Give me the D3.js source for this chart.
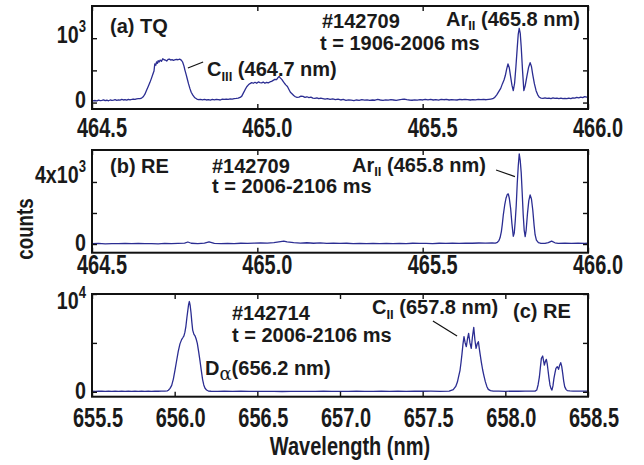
<!DOCTYPE html>
<html>
<head>
<meta charset="utf-8">
<script src="https://cdn.jsdelivr.net/npm/d3@7"></script>
<style>
  body { margin: 0; background: #fff; }
  text { font-family: 'Liberation Sans', Arial, sans-serif; font-weight: bold; fill: #1a1a1a; }
</style>
</head>
<body>
<div id="chart"></div>
<script>
// Spectra: [wavelength (nm), counts]
const tqData = [
  [464.500,35],[464.505,28],[464.510,32],[464.515,25],[464.520,38],[464.525,30],[464.530,35],[464.535,42],
  [464.540,30],[464.545,36],[464.550,28],[464.555,40],[464.560,33],[464.565,38],[464.570,45],[464.575,35],
  [464.580,42],[464.585,38],[464.590,48],[464.595,40],[464.600,45],[464.605,38],[464.610,50],[464.615,42],
  [464.620,48],[464.625,55],[464.630,50],[464.635,58],[464.640,60],[464.645,62],[464.650,70],[464.655,90],
  [464.660,130],[464.665,190],[464.670,250],[464.675,310],[464.680,380],[464.684,440],[464.6875,490],
  [464.689,560],[464.690,600],[464.693,580],[464.695,630],[464.698,610],[464.700,650],[464.703,630],
  [464.706,660],[464.710,640],[464.714,680],[464.718,665],[464.722,660],[464.726,645],[464.730,670],
  [464.734,675],[464.738,660],[464.742,668],[464.746,655],[464.750,662],[464.755,670],[464.760,665],
  [464.765,675],[464.770,660],[464.774,630],[464.778,570],[464.781,505],[464.785,430],[464.788,370],
  [464.792,290],[464.796,220],[464.800,160],[464.805,115],[464.810,80],[464.817,55],[464.822,45],
  [464.828,50],[464.834,42],[464.840,48],[464.846,40],[464.852,45],[464.858,38],[464.864,48],[464.870,42],
  [464.876,50],[464.882,45],[464.888,40],[464.894,52],[464.900,48],[464.906,55],[464.912,50],[464.918,58],
  [464.924,55],[464.930,62],[464.936,65],[464.942,70],[464.948,80],[464.953,100],[464.958,150],[464.963,200],
  [464.968,245],[464.973,275],[464.978,295],[464.983,310],[464.988,300],[464.993,315],[464.998,300],
  [465.003,320],[465.008,310],[465.013,305],[465.018,318],[465.023,300],[465.028,315],[465.033,305],
  [465.038,320],[465.043,330],[465.048,345],[465.053,360],[465.058,355],[465.062,385],[465.066,405],
  [465.070,380],[465.074,360],[465.078,330],[465.082,300],[465.086,275],[465.091,250],[465.096,200],
  [465.100,160],[465.104,140],[465.110,110],[465.115,90],[465.120,80],[465.126,85],[465.132,100],
  [465.138,95],[465.144,80],[465.150,90],[465.156,78],[465.162,85],[465.168,70],[465.174,65],[465.180,72],
  [465.186,60],[465.192,68],[465.198,62],[465.205,55],[465.212,62],[465.220,50],[465.228,56],[465.236,45],
  [465.244,52],[465.252,40],[465.260,48],[465.268,35],[465.276,42],[465.284,38],[465.292,30],[465.300,40],
  [465.308,35],[465.316,45],[465.324,38],[465.332,42],[465.340,33],[465.348,40],[465.356,36],[465.364,48],
  [465.372,40],[465.380,35],[465.388,42],[465.396,38],[465.404,45],[465.412,40],[465.420,35],[465.428,42],
  [465.436,48],[465.444,55],[465.452,45],[465.460,40],[465.468,36],[465.476,42],[465.484,38],[465.492,45],
  [465.500,40],[465.508,50],[465.516,42],[465.524,48],[465.532,40],[465.540,45],[465.548,38],[465.556,50],
  [465.564,44],[465.572,48],[465.580,40],[465.588,46],[465.596,42],[465.604,40],[465.612,48],[465.620,44],
  [465.628,50],[465.636,46],[465.644,40],[465.652,45],[465.660,42],[465.668,50],[465.676,45],[465.684,48],
  [465.692,44],[465.700,50],[465.706,55],[465.712,60],[465.718,80],[465.724,120],[465.730,170],[465.736,220],
  [465.741,290],[465.746,351],[465.750,420],[465.754,520],[465.758,600],[465.762,540],[465.766,402],
  [465.770,270],[465.774,185],[465.778,300],[465.782,557],[465.786,850],[465.789,1060],[465.792,1154],
  [465.795,1080],[465.798,868],[465.802,500],[465.806,185],[465.810,260],[465.815,402],[465.820,540],
  [465.825,620],[465.829,560],[465.833,429],[465.838,290],[465.843,185],[465.848,120],[465.853,82],
  [465.858,70],[465.864,66],[465.870,72],[465.876,65],[465.882,70],[465.888,60],[465.894,72],[465.900,64],
  [465.906,70],[465.912,62],[465.918,68],[465.924,60],[465.930,66],[465.936,60],[465.942,70],[465.948,62],
  [465.954,74],[465.960,68],[465.966,80],[465.972,72],[465.978,85],[465.984,78],[465.990,92],[465.996,85],
  [466.000,90]
]

const reArData = [
  [464.50,20],[464.52,35],[464.54,15],[464.56,30],[464.58,20],[464.60,40],[464.62,25],[464.64,35],
  [464.66,20],[464.68,30],[464.70,15],[464.72,35],[464.74,25],[464.76,40],[464.78,60],[464.79,130],
  [464.80,50],[464.82,30],[464.84,60],[464.854,140],[464.87,40],[464.89,30],[464.91,45],[464.93,30],
  [464.95,50],[464.97,40],[464.99,60],[465.01,70],[465.03,60],[465.05,90],[465.07,150],[465.08,180],
  [465.09,140],[465.11,90],[465.13,60],[465.15,80],[465.17,50],[465.19,70],[465.21,45],[465.23,60],
  [465.25,35],[465.27,50],[465.29,30],[465.31,45],[465.33,25],[465.35,40],[465.37,30],[465.39,45],
  [465.41,20],[465.43,40],[465.45,30],[465.47,50],[465.49,35],[465.51,45],[465.53,30],[465.55,50],
  [465.57,40],[465.59,55],[465.61,45],[465.63,60],[465.65,50],[465.67,65],[465.69,55],[465.71,70],
  [465.720,60],[465.726,110],[465.730,200],[465.734,400],[465.738,800],[465.741,1300],[465.744,1900],
  [465.748,2500],[465.752,2950],[465.756,3200],[465.759,3226],[465.762,2950],[465.766,2301],[465.770,1300],
  [465.774,500],[465.777,700],[465.780,1500],[465.783,2500],[465.786,3900],[465.789,5000],[465.792,5806],
  [465.795,5400],[465.798,4600],[465.801,3300],[465.804,1900],[465.807,900],[465.810,480],[465.813,900],
  [465.817,1978],[465.821,2800],[465.825,3161],[465.829,2900],[465.833,2194],[465.837,1200],[465.840,600],
  [465.844,250],[465.850,90],[465.856,50],[465.862,45],[465.870,40],[465.880,90],[465.890,190],
  [465.900,80],[465.910,45],[465.930,60],[465.950,40],[465.970,55],[465.990,45],[466.000,50]
]

const reCData = [
  [655.50,60],[655.52,50],[655.54,65],[655.56,55],[655.58,45],[655.60,60],[655.62,50],[655.64,55],
  [655.66,40],[655.68,55],[655.70,45],[655.72,60],[655.74,50],[655.76,55],[655.78,45],[655.80,60],
  [655.82,50],[655.84,55],[655.86,45],[655.88,60],[655.90,55],[655.92,65],[655.94,60],[655.955,100],
  [655.962,156],[655.972,350],[655.982,662],[655.992,1300],[656.002,2220],[656.012,3200],[656.022,4167],
  [656.032,4900],[656.042,5335],[656.050,5550],[656.056,5725],[656.062,6100],[656.068,6700],[656.074,7600],
  [656.079,8256],[656.084,8900],[656.089,9230],[656.094,8800],[656.099,8061],[656.104,7100],[656.109,6309],
  [656.116,5900],[656.123,5725],[656.130,5400],[656.137,4946],[656.145,4100],[656.153,3193],[656.161,2200],
  [656.169,1246],[656.176,700],[656.183,389],[656.193,180],[656.204,78],[656.22,55],[656.26,40],[656.30,60],
  [656.35,45],[656.40,55],[656.45,40],[656.50,50],[656.55,35],[656.60,45],[656.65,30],[656.70,45],
  [656.75,35],[656.80,50],[656.85,40],[656.90,55],[656.95,45],[657.00,50],[657.05,40],[657.10,55],
  [657.15,45],[657.20,50],[657.25,60],[657.30,45],[657.35,55],[657.40,50],[657.45,65],[657.50,55],
  [657.55,60],[657.605,50],[657.66,80],[657.685,220],[657.700,550],[657.710,1000],[657.718,1600],
  [657.726,2200],[657.732,3000],[657.738,3900],[657.744,4900],[657.750,5635],[657.757,5000],[657.764,4612],
  [657.771,5400],[657.778,5976],[657.786,5000],[657.794,4442],[657.801,5600],[657.809,6590],[657.816,5300],
  [657.823,4442],[657.830,4900],[657.837,5124],[657.842,4500],[657.847,3900],[657.855,3000],[657.863,2229],
  [657.871,1600],[657.879,1036],[657.888,550],[657.897,250],[657.910,120],[657.927,80],[657.96,60],
  [658.00,50],[658.04,65],[658.08,55],[658.12,60],[658.16,65],[658.180,70],[658.190,180],[658.198,700],
  [658.206,1520],[658.212,2500],[658.218,3420],[658.226,3660],[658.231,3200],[658.236,2740],[658.242,3100],
  [658.248,3320],[658.253,2900],[658.258,2229],[658.264,1400],[658.270,700],[658.276,350],[658.282,180],
  [658.288,600],[658.294,1376],[658.300,1900],[658.306,2400],[658.314,2570],[658.318,2450],[658.322,2300],
  [658.328,2700],[658.335,2980],[658.341,2600],[658.347,1890],[658.353,1100],[658.359,530],[658.367,250],
  [658.375,120],[658.390,90],[658.410,80],[658.440,70],[658.470,75],[658.500,70]
]

// axis ticks
const xTicksA = [464.5, 465.0, 465.5, 466.0]
const xTicksC = [655.5, 656.0, 656.5, 657.0, 657.5, 658.0, 658.5]
const yTicksA = [0, 500, 1000]
const yTicksB = [0, 2000, 4000]
const yTicksC = [0, 5000, 10000]
const yLabelsA = [{ v: 0, base: '0' }, { v: 1000, base: '10', sup: '3' }]
const yLabelsB = [{ v: 0, base: '0' }, { v: 4000, base: '4x10', sup: '3' }]
const yLabelsC = [{ v: 0, base: '0' }, { v: 10000, base: '10', sup: '4' }]

const width = 644
const height = 465
const plotLeft = 92
const plotRight = 588
const lineColor = '#2b2d92'

const svg = d3
  .select('#chart')
  .append('svg')
  .attr('width', width)
  .attr('height', height)

// layout per panel (label nudges follow the original figure)
const panels = [
  { id: 'a', top: 6, bottom: 109, xDomain: [464.5, 466.0], yDomain: [-100, 1500], data: tqData,
    xTicks: xTicksA, yTicks: yTicksA, yLabels: yLabelsA, xLabelY: 137, xLabelDx: 10, yLabelDy: [5.5, 5] },
  { id: 'b', top: 150, bottom: 252.7, xDomain: [464.5, 466.0], yDomain: [-560, 6060], data: reArData,
    xTicks: xTicksA, yTicks: yTicksB, yLabels: yLabelsB, xLabelY: 274, xLabelDx: 10, yLabelDy: [6.5, 1] },
  { id: 'c', top: 294, bottom: 396.7, xDomain: [655.5, 658.5], yDomain: [-500, 10000], data: reCData,
    xTicks: xTicksC, yTicks: yTicksC, yLabels: yLabelsC, xLabelY: 427, xLabelDx: 6, yLabelDy: [7.5, 15] }
]

const scales = {}

panels.forEach(p => {
  const x = d3.scaleLinear().domain(p.xDomain).range([plotLeft, plotRight])
  const y = d3.scaleLinear().domain(p.yDomain).range([p.bottom, p.top])
  scales[p.id] = { x, y }
  const g = svg.append('g').attr('class', 'panel-' + p.id)

  g.append('clipPath')
    .attr('id', 'clip-' + p.id)
    .append('rect')
    .attr('x', plotLeft)
    .attr('y', p.top)
    .attr('width', plotRight - plotLeft)
    .attr('height', p.bottom - p.top)

  // spectrum
  const line = d3.line().x(d => x(d[0])).y(d => y(d[1]))
  g.append('path')
    .datum(p.data)
    .attr('clip-path', 'url(#clip-' + p.id + ')')
    .attr('d', line)
    .attr('fill', 'none')
    .attr('stroke', lineColor)
    .attr('stroke-width', 1.3)
    .attr('stroke-linejoin', 'round')

  // inward ticks on all four sides
  const tickLen = 5
  const axes = [
    { axis: d3.axisBottom(x).tickValues(p.xTicks), t: 'translate(0,' + p.bottom + ')' },
    { axis: d3.axisTop(x).tickValues(p.xTicks), t: 'translate(0,' + p.top + ')' },
    { axis: d3.axisLeft(y).tickValues(p.yTicks), t: 'translate(' + plotLeft + ',0)' },
    { axis: d3.axisRight(y).tickValues(p.yTicks), t: 'translate(' + plotRight + ',0)' }
  ]
  axes.forEach(a => {
    const ag = g.append('g').attr('transform', a.t).call(a.axis.tickSize(tickLen).tickFormat(''))
    ag.select('.domain').remove()
    ag.selectAll('.tick line')
      .attr('stroke', '#111')
      .attr('stroke-width', 1.4)
      .attr('x2', function() { return -(+d3.select(this).attr('x2') || 0) })
      .attr('y2', function() { return -(+d3.select(this).attr('y2') || 0) })
  })

  // frame
  g.append('rect')
    .attr('x', plotLeft)
    .attr('y', p.top)
    .attr('width', plotRight - plotLeft)
    .attr('height', p.bottom - p.top)
    .attr('fill', 'none')
    .attr('stroke', '#111')
    .attr('stroke-width', 2)

  // x tick labels (condensed bold)
  g.selectAll('.xlab')
    .data(p.xTicks)
    .enter()
    .append('text')
    .attr('class', 'xlab')
    .attr('transform', d => 'translate(' + (x(d) + p.xLabelDx) + ',' + p.xLabelY + ') scale(0.74,1)')
    .attr('text-anchor', 'middle')
    .style('font-size', '27px')
    .text(d => d3.format('.1f')(d))

  // y tick labels with superscript exponent
  g.selectAll('.ylab')
    .data(p.yLabels)
    .enter()
    .append('text')
    .attr('class', 'ylab')
    .attr('transform', (d, i) => 'translate(86,' + (y(d.v) + p.yLabelDy[i]) + ') scale(0.82,1)')
    .attr('text-anchor', 'end')
    .style('font-size', '24px')
    .each(function(d) {
      const t = d3.select(this)
      t.append('tspan').text(d.base)
      if (d.sup) {
        t.append('tspan').attr('dy', -11).style('font-size', '16px').text(d.sup)
      }
    })
})

// annotations
function label(x, y, parts) {
  const t = svg.append('text').attr('x', x).attr('y', y).style('font-size', '20px')
  parts.forEach(pt => {
    if (typeof pt === 'string') {
      t.append('tspan').text(pt)
    } else {
      t.append('tspan')
        .attr('dy', pt.dy)
        .style('font-size', pt.size + 'px')
        .style('font-weight', pt.weight || 'bold')
        .style('font-family', pt.family || null)
        .text(pt.text)
      if (pt.back) t.append('tspan').attr('dy', -pt.dy).text(pt.back)
    }
  })
  return t
}

label(110, 33, ['(a) TQ'])
label(322, 28, ['#142709'])
label(320, 50, ['t = 1906-2006 ms'])
label(446, 26, ['Ar', { text: 'II', dy: 4, size: 13, back: ' (465.8 nm)' }])
label(207, 76, ['C', { text: 'III', dy: 5, size: 13, back: ' (464.7 nm)' }])

label(110, 173, ['(b) RE'])
label(212, 173, ['#142709'])
label(212, 193, ['t = 2006-2106 ms'])
label(352, 172, ['Ar', { text: 'II', dy: 4, size: 13, back: ' (465.8 nm)' }])

label(232, 320, ['#142714'])
label(232, 342, ['t = 2006-2106 ms'])
label(205, 375, ['D', { text: 'α', dy: 5, size: 18, weight: 'normal', family: 'DejaVu Serif', back: '(656.2 nm)' }])
label(372, 314, ['C', { text: 'II', dy: 5, size: 13, back: ' (657.8 nm)' }])
label(513, 318, ['(c) RE'])

// leader lines, placed in data units
const leaders = [
  { p: 'a', from: [464.790, 537], to: [464.836, 630] },
  { p: 'b', from: [465.722, 4774], to: [465.779, 4342] },
  { p: 'c', from: [657.562, 7240], to: [657.708, 5705] }
]
leaders.forEach(l => {
  const s = scales[l.p]
  svg.append('line')
    .attr('x1', s.x(l.from[0]))
    .attr('y1', s.y(l.from[1]))
    .attr('x2', s.x(l.to[0]))
    .attr('y2', s.y(l.to[1]))
    .attr('stroke', '#111')
    .attr('stroke-width', 1.2)
})

// axis titles
svg.append('text')
  .attr('transform', 'translate(350,455) scale(0.8,1)')
  .attr('text-anchor', 'middle')
  .style('font-size', '25px')
  .text('Wavelength (nm)')

svg.append('text')
  .attr('transform', 'translate(33,229) rotate(-90) scale(0.78,1)')
  .attr('text-anchor', 'middle')
  .style('font-size', '24px')
  .text('counts')
</script>
</body>
</html>
